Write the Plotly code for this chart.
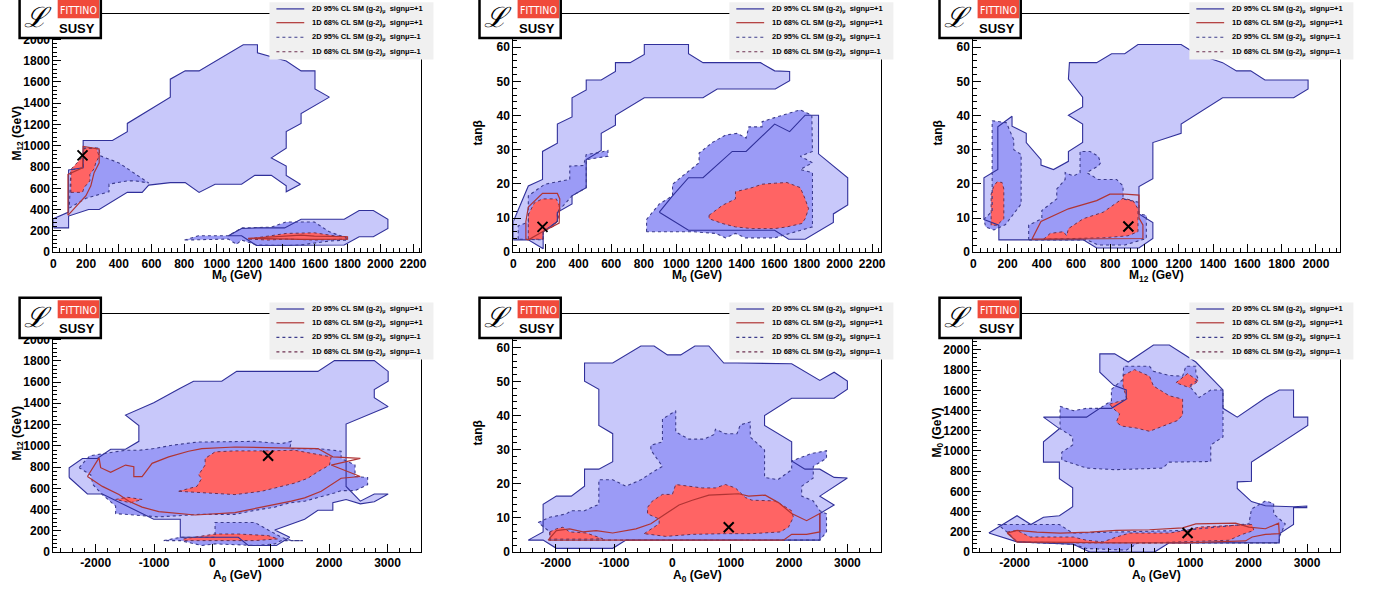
import plotly.graph_objects as go

W, H = 1374, 597

# ---------------- data ----------------
# Panel 1 : M0 (x) vs M12 (y)
P1_POS95_A_X = [0, 93, 93, 215, 280, 452, 543, 583, 715, 806, 891, 989, 1151, 1232, 1333, 1424, 1424, 1511, 1424, 1424, 1333, 1424, 1424, 1515, 1515, 1688, 1600, 1600, 1515, 1424, 1248, 1248, 1161, 891, 806, 715, 715, 452, 452, 361, 182, 182, 93, 93, 0]
P1_POS95_A_Y = [228, 228, 339, 401, 401, 562, 562, 630, 654, 654, 562, 639, 639, 722, 722, 623, 568, 639, 722, 809, 886, 978, 1133, 1210, 1302, 1457, 1534, 1704, 1704, 1796, 1873, 1950, 1950, 1704, 1704, 1626, 1457, 1210, 1133, 1049, 1049, 793, 772, 377, 315]
P1_POS95_B_X = [1070, 1151, 1242, 1414, 1515, 1779, 1870, 1957, 2046, 2046, 1957, 1870, 1779, 1596, 1242, 1151]
P1_POS95_B_Y = [154, 222, 228, 228, 309, 309, 392, 392, 309, 222, 145, 145, 68, 68, 62, 154]
P1_NEG95_A_X = [97, 199, 340, 340, 452, 502, 583, 492, 401, 284, 280, 188, 182, 182, 107]
P1_NEG95_A_Y = [414, 506, 568, 639, 670, 670, 650, 747, 839, 907, 978, 978, 901, 793, 772]
P1_NEG95_B_X = [802, 887, 1070, 1151, 1333, 1424, 1596, 1688, 1799, 1799, 1688, 1515, 1424, 1242, 1151, 1120, 1070, 887]
P1_NEG95_B_Y = [114, 154, 154, 228, 235, 284, 284, 191, 130, 114, 105, 68, 62, 68, 114, 74, 123, 114]
P1_NEG68_A_X = [107, 178, 188, 223, 223, 249, 259, 280, 263, 188, 182, 107]
P1_NEG68_A_Y = [562, 562, 608, 670, 731, 784, 839, 901, 978, 978, 901, 778]
P1_NEG68_B_X = [1191, 1313, 1424, 1596, 1718, 1799, 1799, 1596, 1424, 1313]
P1_NEG68_B_Y = [123, 154, 176, 182, 154, 145, 123, 114, 123, 114]
P1_POS68_A_X = [89, 89, 178, 182, 280, 280, 249, 229, 199, 154, 107, 89]
P1_POS68_A_Y = [346, 731, 793, 994, 969, 839, 747, 623, 531, 454, 377, 346]
P1_POS68_B_X = [1191, 1424, 1515, 1596, 1799, 1799, 1515, 1191]
P1_POS68_B_Y = [130, 154, 160, 150, 145, 123, 120, 130]
P1_BEST = (178, 910)

# Panel 2 : M0 (x) vs tan(beta) (y)
P2_POS95_A_X = [0, 92, 179, 179, 270, 270, 360, 360, 447, 447, 539, 626, 626, 716, 803, 803, 1074, 1074, 1163, 1515, 1602, 1694, 1694, 1606, 1250, 1163, 803, 716, 626, 626, 539, 539, 447, 447, 360, 360, 270, 270, 183, 183, 92, 0]
P2_POS95_A_Y = [9.0, 19.4, 21.3, 29.5, 31.9, 37.5, 39.6, 45.2, 47.5, 50.4, 50.4, 52.9, 55.5, 55.5, 57.9, 60.8, 60.8, 58.1, 55.5, 55.5, 53.1, 52.9, 50.2, 47.8, 47.8, 45.2, 45.2, 42.7, 40.1, 37.2, 34.8, 29.8, 27.1, 18.9, 16.5, 14.1, 11.7, 9.0, 6.0, 1.0, 3.6, 3.6]
P2_POS95_B_X = [895, 976, 1074, 1163, 1342, 1427, 1602, 1694, 1789, 1871, 1871, 2050, 2050, 1962, 1962, 1789, 1688, 1602, 1074]
P2_POS95_B_Y = [11.7, 16.5, 21.8, 21.8, 29.5, 29.5, 37.5, 35.3, 40.1, 40.1, 28.8, 21.8, 13.8, 11.2, 8.7, 3.8, 3.8, 6.4, 6.4]
P2_NEG95_A_X = [30, 30, 92, 92, 193, 346, 346, 431, 447, 529, 580, 580, 447, 447, 360, 270, 270, 183, 183]
P2_NEG95_A_Y = [3.8, 7.7, 8.8, 16.5, 19.9, 21.3, 25.2, 25.4, 28.6, 29.2, 29.8, 28.1, 27.1, 18.9, 16.5, 11.7, 9.0, 6.0, 3.6]
P2_NEG95_B_X = [817, 817, 895, 976, 976, 1057, 1139, 1139, 1220, 1301, 1373, 1427, 1444, 1525, 1525, 1602, 1759, 1830, 1834, 1759, 1834, 1759, 1834, 1834, 1602, 1423, 1362, 1301, 1240, 1098]
P2_NEG95_B_Y = [6.0, 9.6, 14.1, 16.5, 19.9, 23.1, 26.2, 29.0, 32.1, 34.3, 34.8, 33.4, 36.7, 36.7, 38.2, 39.4, 41.7, 40.1, 29.5, 28.1, 26.2, 24.2, 23.3, 7.4, 4.2, 4.2, 5.5, 4.2, 5.5, 6.0]
P2_NEG68_A_X = [92, 92, 130, 179, 264, 281, 275, 250, 183, 183]
P2_NEG68_A_Y = [3.8, 11.0, 14.5, 15.6, 15.6, 13.7, 9.5, 7.7, 6.0, 3.8]
P2_NEG68_B_X = [1200, 1281, 1362, 1362, 1464, 1525, 1606, 1677, 1759, 1789, 1810, 1789, 1769, 1677, 1602, 1464, 1362, 1281, 1200]
P2_NEG68_B_Y = [10.8, 13.7, 15.6, 17.7, 18.9, 19.9, 20.2, 20.4, 18.9, 15.6, 12.7, 9.8, 8.4, 7.4, 6.9, 6.9, 7.4, 8.4, 9.8]
P2_POS68_A_X = [77, 77, 92, 179, 270, 285, 281, 179, 92, 77]
P2_POS68_A_Y = [3.8, 9.0, 13.2, 17.2, 17.2, 15.6, 8.5, 6.0, 3.6, 3.8]
P2_BEST = (179, 7.4)

# Panel 3 : M12 (x) vs tan(beta) (y)
P3_POS95_A_X = [62, 62, 143, 143, 226, 226, 309, 309, 395, 395, 468, 555, 555, 638, 638, 555, 638, 638, 555, 561, 720, 807, 884, 961, 1213, 1300, 1455, 1536, 1619, 1702, 1954, 1954, 1870, 1455, 1213, 1213, 1048, 1048, 967, 967, 1048, 1048, 967, 720, 642, 149, 149]
P3_POS95_A_Y = [9.6, 21.8, 24.2, 36.7, 39.8, 36.9, 34.8, 32.1, 27.1, 25.5, 24.2, 26.6, 29.5, 32.1, 37.5, 40.1, 42.5, 45.4, 50.7, 55.5, 55.5, 58.1, 58.1, 60.8, 60.8, 58.1, 55.5, 53.1, 53.1, 50.4, 50.4, 47.8, 45.2, 45.2, 37.5, 34.8, 32.1, 21.5, 19.2, 11.2, 8.7, 4.0, 1.2, 1.2, 3.6, 3.6, 7.9]
P3_NEG95_A_X = [110, 193, 236, 236, 279, 279, 188, 120, 72, 62, 110]
P3_NEG95_A_Y = [38.5, 37.9, 32.9, 30.0, 28.6, 14.1, 8.1, 6.5, 7.4, 9.6, 12.0]
P3_NEG95_B_X = [323, 323, 400, 400, 487, 487, 536, 536, 584, 623, 623, 681, 729, 743, 729, 662, 729, 836, 874, 874, 967, 967, 1010, 1010, 884, 729, 662]
P3_NEG95_B_Y = [3.6, 7.9, 9.8, 12.2, 15.6, 18.5, 21.3, 23.3, 22.3, 23.3, 29.5, 29.5, 28.1, 26.2, 25.2, 23.3, 21.3, 21.3, 19.4, 15.6, 14.6, 11.2, 10.8, 4.0, 2.1, 2.1, 3.6]
P3_NEG68_A_X = [104, 104, 120, 139, 168, 178, 178, 139]
P3_NEG68_A_Y = [7.9, 17.0, 19.4, 20.6, 20.4, 18.5, 9.8, 7.9]
P3_NEG68_B_X = [410, 449, 526, 545, 555, 642, 758, 816, 874, 932, 961, 961, 903, 758, 545, 410]
P3_NEG68_B_Y = [3.8, 5.5, 6.0, 4.8, 6.9, 9.8, 11.7, 13.7, 15.8, 15.1, 12.7, 6.0, 4.8, 4.2, 4.0, 3.8]
P3_POS68_A_X = [342, 395, 555, 720, 797, 884, 967, 967, 990, 990, 342]
P3_POS68_A_Y = [3.8, 9.0, 12.7, 15.1, 17.0, 17.0, 16.7, 10.0, 8.0, 4.0, 3.8]
P3_BEST = (905, 7.5)

# Panel 4 : A0 (x) vs M12 (y)
P4_POS95_A_X = [-2455, -2455, -2227, -1972, -1744, -1489, -1261, -1261, -1489, -1006, -568, -324, 159, 415, 1807, 2091, 2773, 3011, 3011, 2773, 2773, 3011, 2290, 2290, 2534, 2773, 3011, 2773, 2534, 2290, 2063, 2063, 1807, 1580, 1068, 1324, 1097, 614, 443, -551, -551, -1006, -1886, -2142]
P4_POS95_A_Y = [702, 794, 881, 881, 967, 967, 1042, 1190, 1289, 1406, 1536, 1607, 1607, 1700, 1700, 1802, 1802, 1700, 1607, 1530, 1453, 1369, 1205, 618, 479, 547, 547, 473, 454, 495, 464, 393, 393, 309, 207, 139, 62, 62, 139, 139, 309, 309, 547, 547]
P4_NEG95_A_X = [-2284, -2102, -1489, -1261, -1006, -693, -267, 45, 273, 727, 1182, 1352, 1324, 1807, 2205, 2205, 2443, 2443, 2659, 2659, 2443, 2205, 2091, 1580, 1324, 1068, 727, 386, -210, -920, -1659, -1659, -1886, -2045, -2085]
P4_NEG95_A_Y = [794, 906, 958, 958, 974, 1005, 1035, 1035, 1042, 1042, 1020, 1042, 974, 974, 949, 881, 819, 711, 702, 634, 578, 578, 556, 479, 464, 423, 393, 355, 355, 331, 362, 433, 541, 634, 726]
P4_NEG95_B_X = [-835, -551, 45, 45, 727, 954, 1182, 1352, 1551, 1182, 1068, 727, 45, -182, -551]
P4_NEG95_B_Y = [108, 139, 139, 278, 278, 207, 139, 108, 108, 108, 77, 62, 77, 62, 108]
P4_NEG68_A_X = [-580, -267, -182, -239, -125, -125, 45, 386, 898, 1409, 2034, 2006, 1807, 1636, 1409, 1125, 841, 386, -182]
P4_NEG68_A_Y = [572, 618, 695, 726, 819, 881, 943, 952, 952, 958, 896, 819, 757, 695, 649, 609, 572, 541, 556]
P4_NEG68_B_X = [-1659, -1460, -1205, -1403]
P4_NEG68_B_Y = [495, 516, 495, 464]
P4_NEG68_C_X = [-494, 45, 443, 954, 1125, 727, 45, -494]
P4_NEG68_C_Y = [124, 170, 170, 155, 124, 108, 108, 108]
P4_POS68_A_X = [-2142, -1943, -1915, -1744, -1489, -1347, -1347, -1205, -1034, -750, -409, -182, 386, 954, 1409, 1807, 2063, 2534, 2034, 2534, 2205, 1864, 1580, 1352, 841, 386, -295, -920, -1205, -1432, -1602, -1886, -2142]
P4_POS68_A_Y = [711, 887, 794, 751, 819, 804, 711, 711, 835, 896, 949, 974, 989, 983, 980, 974, 896, 881, 819, 711, 695, 572, 510, 479, 423, 371, 349, 380, 423, 479, 541, 618, 711]
P4_BEST = (954, 906)

# Panel 5 : A0 (x) vs tan(beta) (y)
P5_POS95_A_X = [-2472, -2216, -2216, -1989, -1733, -1506, -1506, -1261, -1023, -1023, -1261, -1261, -1506, -1506, -1023, -795, -540, -313, -85, 142, 386, 625, 881, 1108, 1807, 2045, 2528, 2773, 3000, 3000, 2773, 2045, 1580, 1580, 2045, 2045, 2273, 2528, 2773, 3000, 2528, 2773, 2528, 2528, -795, -1023, -1989, -2216]
P5_POS95_A_Y = [3.5, 5.9, 14.0, 16.4, 16.4, 19.3, 24.3, 24.3, 26.5, 34.7, 37.1, 47.7, 50.1, 55.4, 55.4, 57.8, 60.4, 60.4, 57.8, 57.8, 60.4, 60.4, 55.4, 55.4, 55.4, 55.2, 50.3, 52.7, 50.1, 47.7, 45.1, 45.1, 40.0, 37.1, 32.3, 26.7, 24.3, 24.3, 21.9, 21.7, 16.4, 13.8, 11.3, 3.5, 3.5, 1.1, 1.1, 3.5]
P5_NEG95_A_X = [-2301, -2102, -1818, -1733, -1506, -1261, -1261, -1023, -795, -540, -313, -170, -369, -369, -170, -170, 57, 57, 284, 540, 710, 739, 909, 1108, 1165, 1335, 1335, 1580, 1580, 1807, 2045, 2045, 2386, 2642, 2642, 2415, 2415, 2216, 2216, 2415, 2528, 2642, 2642, 2528, -2102, -2102]
P5_NEG95_A_Y = [8.7, 10.2, 11.2, 12.1, 12.1, 14.0, 21.2, 21.2, 19.3, 21.2, 23.7, 25.1, 29.9, 31.3, 32.3, 39.0, 41.4, 35.2, 33.1, 33.1, 34.4, 36.0, 34.7, 34.7, 37.3, 38.1, 33.7, 29.9, 21.9, 21.2, 24.1, 26.7, 28.9, 29.7, 27.5, 25.1, 21.7, 19.3, 16.4, 15.0, 12.1, 11.2, 5.9, 3.5, 3.5, 5.9]
P5_NEG68_A_X = [-483, -227, -227, -426, -426, -341, -170, 0, 57, 284, 511, 739, 909, 1080, 1250, 1364, 1761, 1903, 2045, 2074, 1989, 1847, 1591, 1364, 909, 341, -114]
P5_NEG68_A_Y = [5.4, 8.3, 9.7, 11.2, 13.1, 15.0, 16.9, 16.9, 19.8, 19.3, 18.8, 18.8, 19.8, 18.8, 16.0, 15.2, 15.0, 13.6, 12.1, 10.2, 7.3, 5.9, 5.6, 5.4, 5.4, 5.2, 4.6]
P5_NEG68_B_X = [-2102, -1989, -1875, -1761, -1477, -1193, -1477, -2102]
P5_NEG68_B_Y = [5.9, 6.8, 7.3, 5.9, 5.6, 3.9, 3.8, 3.8]
P5_POS68_A_X = [-2131, -1989, -1761, -1534, -1307, -1023, -625, -369, -114, 114, 341, 625, 909, 1136, 1307, 1591, 1818, 2045, 2301, 2528, 2528, 2301, 2045, 1903, -2131]
P5_POS68_A_Y = [3.5, 6.3, 6.8, 5.9, 6.3, 5.6, 6.8, 8.3, 11.2, 13.8, 15.2, 16.7, 16.9, 17.1, 16.4, 16.7, 14.5, 11.3, 9.2, 11.3, 5.9, 5.2, 5.2, 3.5, 3.5]
P5_BEST = (966, 7.3)

# Panel 6 : A0 (x) vs M0 (y)
P6_POS95_A_X = [-2440, -1958, -1721, -1506, -1234, -1007, -1007, -1234, -1234, -1506, -1506, -1234, -1506, -770, -543, -345, -91, -91, -306, -543, -543, -289, -57, 374, 645, 872, 1098, 1562, 1562, 1806, 2298, 2524, 2768, 2768, 3011, 3011, 2049, 2049, 1806, 1806, 2049, 2287, 2768, 2994, 2994, 2768, 2768, 2524, 2524, 645, 391, -713, -996, -1958]
P6_POS95_A_Y = [188, 360, 273, 344, 360, 448, 636, 727, 890, 890, 1091, 1221, 1335, 1335, 1422, 1422, 1513, 1604, 1650, 1779, 1961, 1961, 1880, 2049, 2049, 1961, 1880, 1604, 1422, 1335, 1529, 1604, 1604, 1335, 1335, 1253, 890, 701, 695, 630, 500, 458, 448, 456, 440, 440, 273, 182, 91, 91, 0, 0, 78, 101]
P6_NEG95_A_X = [-1223, -996, -770, -543, -345, -345, -147, -136, 306, 374, 645, 872, 928, 1098, 1098, 1143, 985, 1155, 1353, 1562, 1562, 1353, 1353, 645, 532, -289, -770, -1194, -1194, -1007, -1007, -1223]
P6_NEG95_A_Y = [1442, 1399, 1422, 1422, 1497, 1610, 1708, 1838, 1838, 1789, 1747, 1740, 1838, 1838, 1766, 1708, 1643, 1529, 1604, 1604, 1140, 1059, 896, 890, 831, 815, 831, 912, 987, 1059, 1140, 1221]
P6_NEG95_B_X = [-2287, -1234, -1007, 872, 2004, 2049, 2287, 2428, 2428, 2626, 2524, 2524, 2049, 1438, 108, -91, -770, -1007, -1958, -2128]
P6_NEG95_B_Y = [273, 273, 188, 214, 279, 425, 506, 481, 377, 279, 149, 91, 91, 91, 91, 19, 36, 78, 101, 198]
P6_NEG68_A_X = [-374, -79, -147, -147, 51, 306, 374, 645, 872, 872, 787, 560, 306, 79, -175, -260, -204, -317]
P6_NEG68_A_Y = [1464, 1513, 1643, 1747, 1805, 1740, 1643, 1546, 1513, 1357, 1302, 1253, 1195, 1227, 1247, 1286, 1367, 1422]
P6_NEG68_B_X = [758, 957, 1143, 985]
P6_NEG68_B_Y = [1675, 1766, 1692, 1627]
P6_NEG68_C_X = [-2128, -1958, -1732, -996, -770, -487, -260, -34, 645, 928, 1155, 1721, 2060, 2089, 1890, 1664, 985, 306, -260, -996, -1958]
P6_NEG68_C_Y = [198, 214, 149, 149, 117, 101, 149, 188, 188, 214, 247, 263, 273, 214, 175, 117, 101, 91, 91, 91, 101]
P6_POS68_A_X = [-2128, -1958, -1619, -1223, -713, -260, 306, 872, 1098, 1438, 1777, 2004, 2287, 2513, 2524, 2287, 2060, 1947, 1438, 872, -260, -1958, -2128]
P6_POS68_A_Y = [188, 214, 198, 188, 198, 214, 221, 240, 279, 286, 286, 247, 231, 286, 182, 175, 149, 110, 101, 91, 91, 101, 188]
P6_BEST = (957, 188)

LEGEND_LABELS = [
    "2D 95% CL SM (g-2)<sub>μ</sub>  signμ=+1",
    "1D 68% CL SM (g-2)<sub>μ</sub>  signμ=+1",
    "2D 95% CL SM (g-2)<sub>μ</sub>  signμ=-1",
    "1D 68% CL SM (g-2)<sub>μ</sub>  signμ=-1",
]
A0_TICKS = [-2000, -1000, 0, 1000, 2000, 3000]
A0_TICKTEXT = ["-2000", "-1000", "0", "1000", "2000", "3000"]

# ---------------- styling ----------------
LIGHT = "#c8c8fa"
MED = "#9b9bf6"
RED = "#ff6464"
NAVY = "#30309a"
NAVY_DOT = "#3c3c8c"
RED_LINE = "#b03434"
RED_DOT = "#6e3050"
FONT = "Liberation Sans, Arial, Helvetica, sans-serif"

COLS = [(50.7, 420.7), (513.3, 883.3), (976.0, 1345.3)]
ROWS = [(12.0, 254.0), (316.7, 558.5)]

PANELS = [
    dict(row=0, col=0, xr=[0, 2250], yr=[0, 2240], xt="M<sub>0</sub> (GeV)", yt="M<sub>12</sub> (GeV)",
         xd=200, xm=40, yd=200, ym=40, a0=False,
         pos95=[(P1_POS95_A_X, P1_POS95_A_Y), (P1_POS95_B_X, P1_POS95_B_Y)],
         neg95=[(P1_NEG95_A_X, P1_NEG95_A_Y), (P1_NEG95_B_X, P1_NEG95_B_Y)],
         neg68=[(P1_NEG68_A_X, P1_NEG68_A_Y), (P1_NEG68_B_X, P1_NEG68_B_Y)],
         pos68=[(P1_POS68_A_X, P1_POS68_A_Y), (P1_POS68_B_X, P1_POS68_B_Y)], best=P1_BEST),
    dict(row=0, col=1, xr=[0, 2255], yr=[0, 69.8], xt="M<sub>0</sub> (GeV)", yt="tanβ",
         xd=200, xm=40, yd=10, ym=2, a0=False,
         pos95=[(P2_POS95_A_X, P2_POS95_A_Y), (P2_POS95_B_X, P2_POS95_B_Y)],
         neg95=[(P2_NEG95_A_X, P2_NEG95_A_Y), (P2_NEG95_B_X, P2_NEG95_B_Y)],
         neg68=[(P2_NEG68_A_X, P2_NEG68_A_Y), (P2_NEG68_B_X, P2_NEG68_B_Y)],
         pos68=[(P2_POS68_A_X, P2_POS68_A_Y)], best=P2_BEST),
    dict(row=0, col=2, xr=[0, 2143], yr=[0, 69.8], xt="M<sub>12</sub> (GeV)", yt="tanβ",
         xd=200, xm=40, yd=10, ym=2, a0=False,
         pos95=[(P3_POS95_A_X, P3_POS95_A_Y)],
         neg95=[(P3_NEG95_A_X, P3_NEG95_A_Y), (P3_NEG95_B_X, P3_NEG95_B_Y)],
         neg68=[(P3_NEG68_A_X, P3_NEG68_A_Y), (P3_NEG68_B_X, P3_NEG68_B_Y)],
         pos68=[(P3_POS68_A_X, P3_POS68_A_Y)], best=P3_BEST),
    dict(row=1, col=0, xr=[-2725, 3578], yr=[0, 2241], xt="A<sub>0</sub> (GeV)", yt="M<sub>12</sub> (GeV)",
         xd=1000, xm=200, yd=200, ym=40, a0=True,
         pos95=[(P4_POS95_A_X, P4_POS95_A_Y)],
         neg95=[(P4_NEG95_A_X, P4_NEG95_A_Y), (P4_NEG95_B_X, P4_NEG95_B_Y)],
         neg68=[(P4_NEG68_A_X, P4_NEG68_A_Y), (P4_NEG68_B_X, P4_NEG68_B_Y), (P4_NEG68_C_X, P4_NEG68_C_Y)],
         pos68=[(P4_POS68_A_X, P4_POS68_A_Y)], best=P4_BEST),
    dict(row=1, col=1, xr=[-2727, 3579], yr=[0, 69.8], xt="A<sub>0</sub> (GeV)", yt="tanβ",
         xd=1000, xm=200, yd=10, ym=2, a0=True,
         pos95=[(P5_POS95_A_X, P5_POS95_A_Y)],
         neg95=[(P5_NEG95_A_X, P5_NEG95_A_Y)],
         neg68=[(P5_NEG68_A_X, P5_NEG68_A_Y), (P5_NEG68_B_X, P5_NEG68_B_Y)],
         pos68=[(P5_POS68_A_X, P5_POS68_A_Y)], best=P5_BEST),
    dict(row=1, col=2, xr=[-2705, 3570], yr=[0, 2356], xt="A<sub>0</sub> (GeV)", yt="M<sub>0</sub> (GeV)",
         xd=1000, xm=200, yd=200, ym=40, a0=True,
         pos95=[(P6_POS95_A_X, P6_POS95_A_Y)],
         neg95=[(P6_NEG95_A_X, P6_NEG95_A_Y), (P6_NEG95_B_X, P6_NEG95_B_Y)],
         neg68=[(P6_NEG68_A_X, P6_NEG68_A_Y), (P6_NEG68_B_X, P6_NEG68_B_Y), (P6_NEG68_C_X, P6_NEG68_C_Y)],
         pos68=[(P6_POS68_A_X, P6_POS68_A_Y)], best=P6_BEST),
]


def closed(xs, ys):
    return list(xs) + [xs[0]], list(ys) + [ys[0]]


def px(x):
    return x / W


def py(y):
    return 1 - y / H


fig = go.Figure()
shapes = []
annotations = []

for i, p in enumerate(PANELS, start=1):
    xa = "x" if i == 1 else f"x{i}"
    ya = "y" if i == 1 else f"y{i}"
    L, R = COLS[p["col"]]
    T, B = ROWS[p["row"]]

    def poly(pts, fill=None, color=None, dash="solid", width=1.0):
        for xs, ys in pts:
            cx, cy = closed(xs, ys)
            if fill is not None:
                fig.add_trace(go.Scatter(x=cx, y=cy, xaxis=xa, yaxis=ya, mode="lines",
                                         fill="toself", fillcolor=fill, line=dict(width=0),
                                         showlegend=False, hoverinfo="skip"))
            else:
                fig.add_trace(go.Scatter(x=cx, y=cy, xaxis=xa, yaxis=ya, mode="lines",
                                         line=dict(color=color, width=width, dash=dash),
                                         showlegend=False, hoverinfo="skip"))

    # fills
    poly(p["pos95"], fill=LIGHT)
    poly(p["neg95"], fill=MED)
    poly(p["neg68"], fill=RED)
    # outlines
    poly(p["pos95"], color=NAVY, width=1.1)
    poly(p["neg95"], color=NAVY_DOT, dash="dot", width=1.1)
    poly(p["neg68"], color=RED_DOT, dash="dot", width=1.0)
    poly(p["pos68"], color=RED_LINE, width=1.2)
    # best fit point
    fig.add_trace(go.Scatter(x=[p["best"][0]], y=[p["best"][1]], xaxis=xa, yaxis=ya, mode="markers",
                             marker=dict(symbol="x-thin", size=10, line=dict(color="black", width=2.0)),
                             showlegend=False, hoverinfo="skip"))

    tickfont = dict(family=FONT, size=12, color="black", weight="bold")
    xaxis = dict(domain=[px(L), px(R)], anchor=ya, range=p["xr"], showline=True, linecolor="black",
                 linewidth=1, mirror=True, ticks="inside", ticklen=8, tickcolor="black",
                 showgrid=False, zeroline=False, tickfont=tickfont,
                 minor=dict(ticks="inside", ticklen=4, tickcolor="black", dtick=p["xm"], tick0=0, showgrid=False))
    if p["a0"]:
        xaxis.update(tickmode="array", tickvals=A0_TICKS, ticktext=A0_TICKTEXT)
    else:
        xaxis.update(dtick=p["xd"], tick0=0)
    yaxis = dict(domain=[py(B), py(T)], anchor=xa, range=p["yr"], showline=True, linecolor="black",
                 linewidth=1, mirror=True, ticks="inside", ticklen=8, tickcolor="black",
                 showgrid=False, zeroline=False, tickfont=tickfont, dtick=p["yd"], tick0=0,
                 minor=dict(ticks="inside", ticklen=4, tickcolor="black", dtick=p["ym"], tick0=0, showgrid=False))
    fig.update_layout({("xaxis" if i == 1 else f"xaxis{i}"): xaxis,
                       ("yaxis" if i == 1 else f"yaxis{i}"): yaxis})

    # axis titles
    annotations.append(dict(x=px((L + R) / 2), y=py(B + 24), xref="paper", yref="paper",
                            text=p["xt"], showarrow=False, xanchor="center", yanchor="middle",
                            font=dict(family=FONT, size=12, color="black", weight="bold")))
    annotations.append(dict(x=px(L - 36), y=py((T + B) / 2), xref="paper", yref="paper",
                            text=p["yt"], showarrow=False, textangle=-90, xanchor="center",
                            yanchor="middle", font=dict(family=FONT, size=12, color="black", weight="bold")))

    # legend box
    lx0, lx1 = L + 217.3, L + 382.3
    ly0, ly1 = T - 11.7, T + 46.3
    shapes.append(dict(type="rect", xref="paper", yref="paper", x0=px(lx0), x1=px(lx1), y0=py(ly1), y1=py(ly0),
                       fillcolor="#f0f0f0", line=dict(width=0), layer="above"))
    styles = [(NAVY, "solid"), (RED_LINE, "solid"), (NAVY_DOT, "dot"), (RED_DOT, "dot")]
    offs = [6.7, 20.7, 35.5, 50.2]
    for (c, d), off, lab in zip(styles, offs, LEGEND_LABELS):
        yy = ly0 + off
        shapes.append(dict(type="line", xref="paper", yref="paper", x0=px(lx0 + 7), x1=px(lx0 + 35),
                           y0=py(yy), y1=py(yy), line=dict(color=c, width=1.2, dash=d), layer="above"))
        annotations.append(dict(x=px(lx0 + 41), y=py(yy), xref="paper", yref="paper", text=lab,
                                showarrow=False, xanchor="left", yanchor="middle",
                                font=dict(family=FONT, size=7.5, color="black", weight="bold")))

    # logo
    bx = L - 34
    by = T + 24.5
    shapes.append(dict(type="rect", xref="paper", yref="paper", x0=px(bx), x1=px(bx + 81.7),
                       y0=py(by), y1=py(by - 41), fillcolor="white", line=dict(color="black", width=2.5),
                       layer="above"))
    shapes.append(dict(type="rect", xref="paper", yref="paper", x0=px(bx + 38.3), x1=px(bx + 80),
                       y0=py(by - 20), y1=py(by - 38.5), fillcolor="#f04a3a", line=dict(width=0),
                       layer="above"))
    annotations.append(dict(x=px(bx + 59.2), y=py(by - 28.5), xref="paper", yref="paper", text="FITTINO",
                            showarrow=False, xanchor="center", yanchor="middle",
                            font=dict(family="DejaVu Sans Condensed, Liberation Sans Narrow, Liberation Sans, sans-serif",
                                      size=10.5, color="white")))
    annotations.append(dict(x=px(bx + 58), y=py(by - 10), xref="paper", yref="paper", text="SUSY",
                            showarrow=False, xanchor="center", yanchor="middle",
                            font=dict(family=FONT, size=13, color="black", weight="bold")))
    annotations.append(dict(x=px(bx + 19), y=py(by - 21), xref="paper", yref="paper", text="ℒ",
                            showarrow=False, xanchor="center", yanchor="middle",
                            font=dict(family="DejaVu Serif, serif", size=28, color="black", style="italic")))

fig.update_layout(width=W, height=H, margin=dict(l=0, r=0, t=0, b=0), paper_bgcolor="white",
                  plot_bgcolor="white", showlegend=False, shapes=shapes, annotations=annotations)

fig.write_html("out.html")
